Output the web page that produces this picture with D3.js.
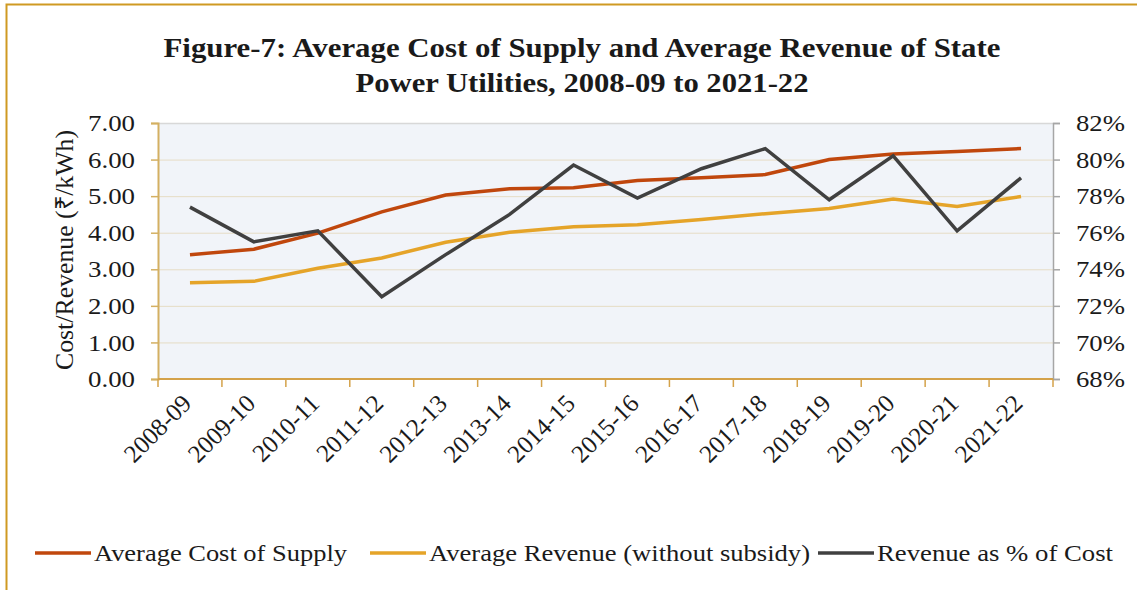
<!DOCTYPE html>
<html>
<head>
<meta charset="utf-8">
<script src="https://cdn.jsdelivr.net/npm/d3@7"></script>
<style>
  body { margin: 0; background: #fff; }
  svg text { font-family: "Liberation Serif", "Times New Roman", serif; fill: #1a1a1a; }
</style>
</head>
<body>
<svg id="chart" width="1137" height="590"></svg>
<script>
// data
const years = ["2008-09", "2009-10", "2010-11", "2011-12", "2012-13", "2013-14", "2014-15",
               "2015-16", "2016-17", "2017-18", "2018-19", "2019-20", "2020-21", "2021-22"];
const costOfSupply = [3.40, 3.55, 3.99, 4.57, 5.03, 5.20, 5.23, 5.43, 5.50, 5.59, 6.00, 6.15, 6.22, 6.30];
const avgRevenue   = [2.63, 2.67, 3.03, 3.31, 3.74, 4.01, 4.16, 4.22, 4.36, 4.52, 4.66, 4.92, 4.72, 4.99];
const revenuePct   = [77.4, 75.5, 76.1, 72.5, 74.8, 77.0, 79.7, 77.9, 79.5, 80.6, 77.8, 80.2, 76.1, 79.0];
const leftTicks  = [0, 1, 2, 3, 4, 5, 6, 7];
const rightTicks = [68, 70, 72, 74, 76, 78, 80, 82];

const series = [
  { name: "Average Cost of Supply", values: costOfSupply, axis: "left", color: "#c0470d" },
  { name: "Average Revenue (without subsidy)", values: avgRevenue, axis: "left", color: "#e5a429" },
  { name: "Revenue as % of Cost", values: revenuePct, axis: "right", color: "#404040" }
];

const svg = d3.select("#chart");
const plot = { left: 158, right: 1053, top: 123, bottom: 379 };

// outer frame (only top and left edges show in the figure)
svg.append("path")
  .attr("d", "M6.5,590 V4.5 H1137")
  .attr("fill", "none")
  .attr("stroke", "#cf9a22")
  .attr("stroke-width", 2);

// title, widths matched to the figure
const titleLines = [
  { text: "Figure-7: Average Cost of Supply and Average Revenue of State", y: 57, w: 837 },
  { text: "Power Utilities, 2008-09 to 2021-22", y: 92, w: 453 }
];
svg.append("g").selectAll("text")
  .data(titleLines)
  .join("text")
  .attr("x", 582)
  .attr("y", d => d.y)
  .attr("text-anchor", "middle")
  .attr("font-weight", "bold")
  .attr("font-size", 28)
  .attr("textLength", d => d.w)
  .attr("lengthAdjust", "spacingAndGlyphs")
  .text(d => d.text);

const x = d3.scaleBand().domain(years).range([plot.left, plot.right]);
const yL = d3.scaleLinear().domain([0, 7]).range([plot.bottom, plot.top]);
const yR = d3.scaleLinear().domain([68, 82]).range([plot.bottom, plot.top]);

// plot background
svg.append("rect")
  .attr("x", plot.left).attr("y", plot.top)
  .attr("width", plot.right - plot.left).attr("height", plot.bottom - plot.top)
  .attr("fill", "#f1f4f9");

// gridlines
svg.append("g")
  .selectAll("line")
  .data(leftTicks.filter(d => d > 0))
  .join("line")
  .attr("x1", plot.left).attr("x2", plot.right)
  .attr("y1", d => yL(d) + 0.5).attr("y2", d => yL(d) + 0.5)
  .attr("stroke", d => d === 7 ? "#d8d8d8" : "#e6dcc5")
  .attr("stroke-width", d => d === 7 ? 1.5 : 1);

// left axis
const axL = svg.append("g")
  .attr("transform", `translate(${plot.left},0)`)
  .call(d3.axisLeft(yL).tickValues(leftTicks).tickFormat(d3.format(".2f")).tickSize(7).tickPadding(16));
axL.select(".domain").attr("stroke", "#d4b062").attr("stroke-width", 2);
axL.selectAll(".tick line").attr("stroke", "#d4b062").attr("stroke-width", 1.5);
axL.selectAll(".tick text").attr("font-size", 24).attr("fill", "#1a1a1a")
  .attr("font-family", "Liberation Serif, serif")
  .attr("textLength", 47).attr("lengthAdjust", "spacingAndGlyphs");

// right axis
const axR = svg.append("g")
  .attr("transform", `translate(${plot.right},0)`)
  .call(d3.axisRight(yR).tickValues(rightTicks).tickFormat(d => d + "%").tickSize(7).tickPadding(16));
axR.select(".domain").attr("stroke", "#a6a6a6").attr("stroke-width", 1.5);
axR.selectAll(".tick line").attr("stroke", "#a6a6a6").attr("stroke-width", 1.5);
axR.selectAll(".tick text").attr("font-size", 24).attr("fill", "#1a1a1a")
  .attr("font-family", "Liberation Serif, serif")
  .attr("textLength", 49).attr("lengthAdjust", "spacingAndGlyphs");

// bottom axis, ticks between categories
const axB = svg.append("g")
  .attr("transform", `translate(0,${plot.bottom})`);
axB.append("line")
  .attr("x1", plot.left).attr("x2", plot.right)
  .attr("stroke", "#d4a24a").attr("stroke-width", 2);
axB.selectAll(".btick")
  .data(years.concat(["end"]))
  .join("line")
  .attr("class", "btick")
  .attr("x1", (d, i) => plot.left + i * x.step())
  .attr("x2", (d, i) => plot.left + i * x.step())
  .attr("y1", 0).attr("y2", 8)
  .attr("stroke", "#d4a24a").attr("stroke-width", 1.5);
axB.selectAll(".blabel")
  .data(years)
  .join("text")
  .attr("class", "blabel")
  .attr("text-anchor", "end")
  .attr("font-size", 25)
  .attr("transform", d => `translate(${x(d) + x.bandwidth() / 2 + 3},${26}) rotate(-45)`)
  .text(d => d);

// y axis title
svg.append("text")
  .attr("text-anchor", "middle")
  .attr("font-size", 25)
  .attr("transform", `translate(73,${(plot.top + plot.bottom) / 2 - 1}) rotate(-90)`)
  .attr("textLength", 240)
  .attr("lengthAdjust", "spacingAndGlyphs")
  .text("Cost/Revenue (₹/kWh)");

// lines
const cx = d => x(d) + x.bandwidth() / 2;
series.forEach(s => {
  const yScale = s.axis === "left" ? yL : yR;
  const line = d3.line()
    .x((d, i) => cx(years[i]))
    .y(d => yScale(d));
  svg.append("path")
    .datum(s.values)
    .attr("d", line)
    .attr("fill", "none")
    .attr("stroke", s.color)
    .attr("stroke-width", 3.5)
    .attr("stroke-linejoin", "miter");
});

// legend
const legendX = [35, 370, 818];
const legendW = [253, 381, 236];
const legend = svg.append("g").selectAll("g")
  .data(series)
  .join("g")
  .attr("transform", (d, i) => `translate(${legendX[i]},553)`);
legend.append("line")
  .attr("x1", 0).attr("x2", 56)
  .attr("stroke", d => d.color).attr("stroke-width", 3.5);
legend.append("text")
  .attr("x", 59).attr("y", 8)
  .attr("font-size", 24)
  .attr("textLength", (d, i) => legendW[i])
  .attr("lengthAdjust", "spacingAndGlyphs")
  .text(d => d.name);
</script>
</body>
</html>
